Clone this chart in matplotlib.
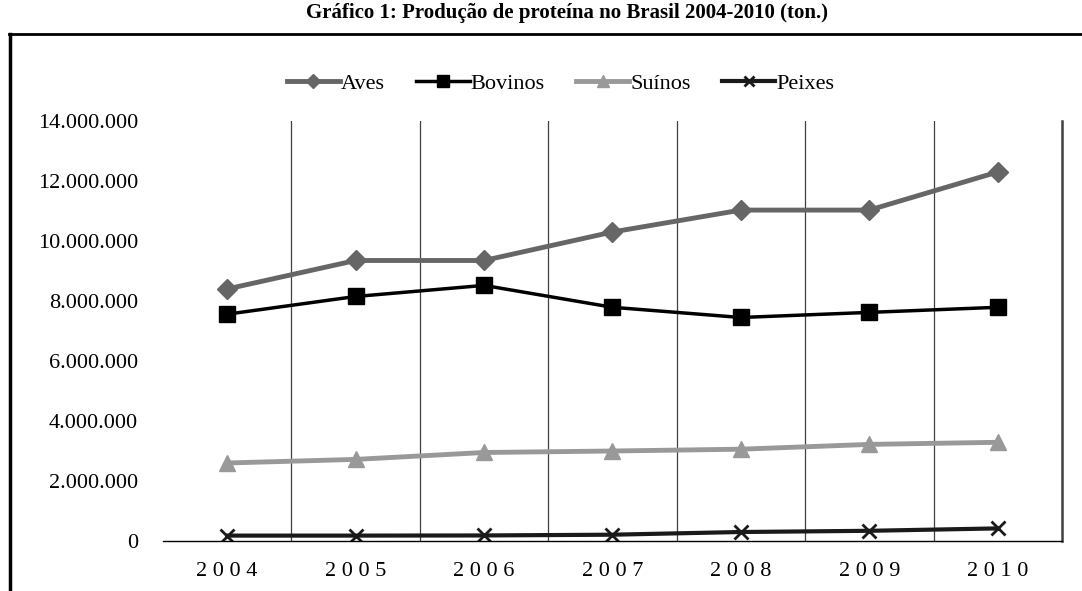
import matplotlib.pyplot as plt
from matplotlib.lines import Line2D
from matplotlib.ticker import FuncFormatter, FixedLocator

# data (tonnes)
years = ['2004', '2005', '2006', '2007', '2008', '2009', '2010']
aves = [8400000, 9350000, 9350000, 10300000, 11030000, 11030000, 12300000]
bovinos = [7560000, 8150000, 8520000, 7790000, 7450000, 7620000, 7790000]
suinos = [2600000, 2720000, 2950000, 3000000, 3060000, 3220000, 3290000]
peixes = [180000, 180000, 185000, 210000, 300000, 340000, 420000]
y_ticks = [0, 2000000, 4000000, 6000000, 8000000, 10000000, 12000000, 14000000]

serif = ['Liberation Serif', 'DejaVu Serif']
plt.rcParams['font.family'] = serif

fig = plt.figure(figsize=(10.82, 5.91), dpi=100)
ax = fig.add_axes([0.1506, 0.0846, 0.8309, 0.7107])

x = list(range(len(years)))
series = [
    ('Aves', aves, '#666666', 'D', 10, 3.5),
    ('Bovinos', bovinos, '#000000', 's', 12, 2.5),
    ('Suínos', suinos, '#999999', '^', 11, 3.5),
    ('Peixes', peixes, '#1a1a1a', 'x', 10, 3.0),
]
for name, vals, col, mk, ms, lw in series:
    ax.plot(x, vals, color=col, lw=lw, marker=mk, markersize=ms,
            markeredgewidth=2 if mk == 'x' else 1, markeredgecolor=col,
            markerfacecolor=col, label=name, solid_joinstyle='round')

ax.set_xlim(-0.5, len(years) - 0.5)
ax.set_ylim(0, 14000000)
ax.set_xticks(x)
ax.set_xticklabels([' '.join(y) for y in years], fontsize=16)
ax.xaxis.set_minor_locator(FixedLocator([i + 0.5 for i in range(len(years) - 1)]))
ax.grid(which='minor', axis='x', color='#404040', lw=0.9)
ax.set_yticks(y_ticks)
ax.yaxis.set_major_formatter(FuncFormatter(lambda v, p: f'{int(v):,}'.replace(',', '.')))
ax.tick_params(axis='y', length=0, pad=18, labelsize=16)
ax.tick_params(axis='x', which='both', length=0, pad=15)

for s in ['left', 'top']:
    ax.spines[s].set_visible(False)
ax.spines['bottom'].set_color('#000000')
ax.spines['bottom'].set_linewidth(1.0)
ax.spines['right'].set_color('#404040')
ax.spines['right'].set_linewidth(1.8)

ax.legend(loc='center', bbox_to_anchor=(0.518, 0.858), bbox_transform=fig.transFigure,
          ncol=4, frameon=False, fontsize=16, handlelength=2.4, handletextpad=0.05,
          columnspacing=1.4, markerscale=0.75)

fig.text(0.524, 0.978, 'Gráfico 1: Produção de proteína no Brasil 2004-2010 (ton.)',
         ha='center', va='center', fontsize=15, fontweight='bold')

# outer frame (left and top edges)
fig.add_artist(Line2D([0.0092, 0.0092], [0.0, 0.9425], transform=fig.transFigure,
                      color='black', lw=2.5))
fig.add_artist(Line2D([0.0085, 1.0], [0.9425, 0.9425], transform=fig.transFigure,
                      color='black', lw=2.0))

fig.savefig('out.png', dpi=100)
